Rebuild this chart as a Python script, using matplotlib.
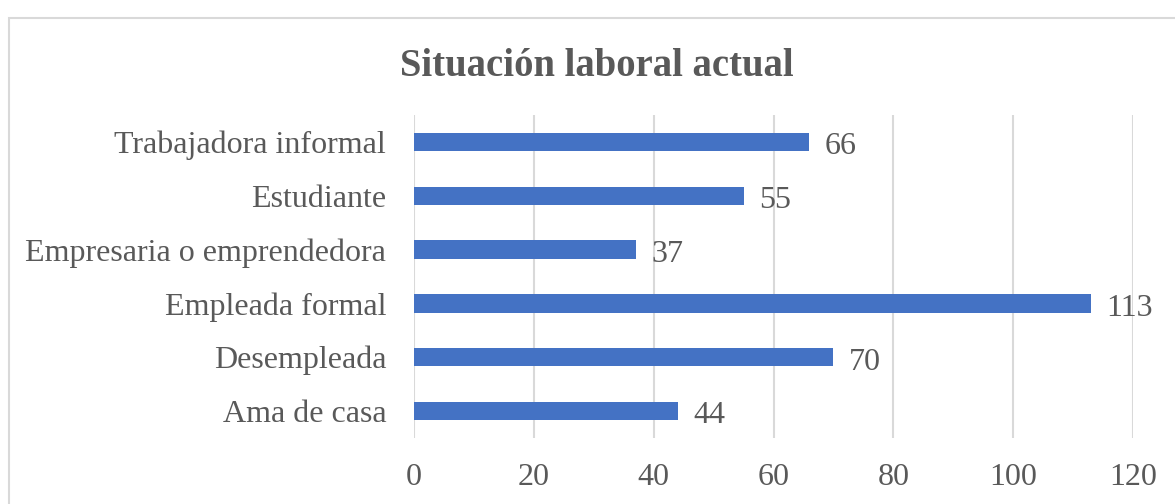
import matplotlib.pyplot as plt
from matplotlib.patches import Rectangle

categorias = ['Ama de casa', 'Desempleada', 'Empleada formal',
              'Empresaria o emprendedora', 'Estudiante', 'Trabajadora informal']
valores = [44, 70, 113, 37, 55, 66]
ticks_x = [0, 20, 40, 60, 80, 100, 120]

gris = '#595959'
plt.rcParams['font.family'] = ['Liberation Serif', 'DejaVu Serif']

fig = plt.figure(figsize=(11.75, 5.04), dpi=100)
ax = fig.add_axes([0.3523, 0.131, 0.612, 0.641])

pos = range(len(categorias))
ax.barh(pos, valores, height=0.34, color='#4472C4', zorder=3)
for p, v in zip(pos, valores):
    ax.text(v + 2.6, p - 0.09, str(v), va='center', ha='left',
            fontsize=23, color=gris)

ax.set_xlim(0, 120)
ax.set_ylim(-0.5, len(categorias) - 0.5)
ax.set_xticks(ticks_x)
ax.set_yticks(list(pos))
ax.set_yticklabels(categorias)
ax.tick_params(axis='x', length=0, pad=18, labelsize=23, labelcolor=gris)
ax.tick_params(axis='y', length=0, pad=20, labelsize=23, labelcolor=gris)
ax.grid(axis='x', color='#d9d9d9', linewidth=1.5, zorder=0)
for s in ax.spines.values():
    s.set_visible(False)

fig.text(0.508, 0.869, 'Situación laboral actual', ha='center', va='center',
         fontsize=27.8, fontweight='bold', color=gris)

fig.patches.append(Rectangle((8.5 / 1175, -0.1), 1.2, 1.1 - 17.5 / 504,
                             transform=fig.transFigure, fill=False,
                             edgecolor='#d9d9d9', linewidth=1.5))

fig.savefig('out.png', dpi=100)
